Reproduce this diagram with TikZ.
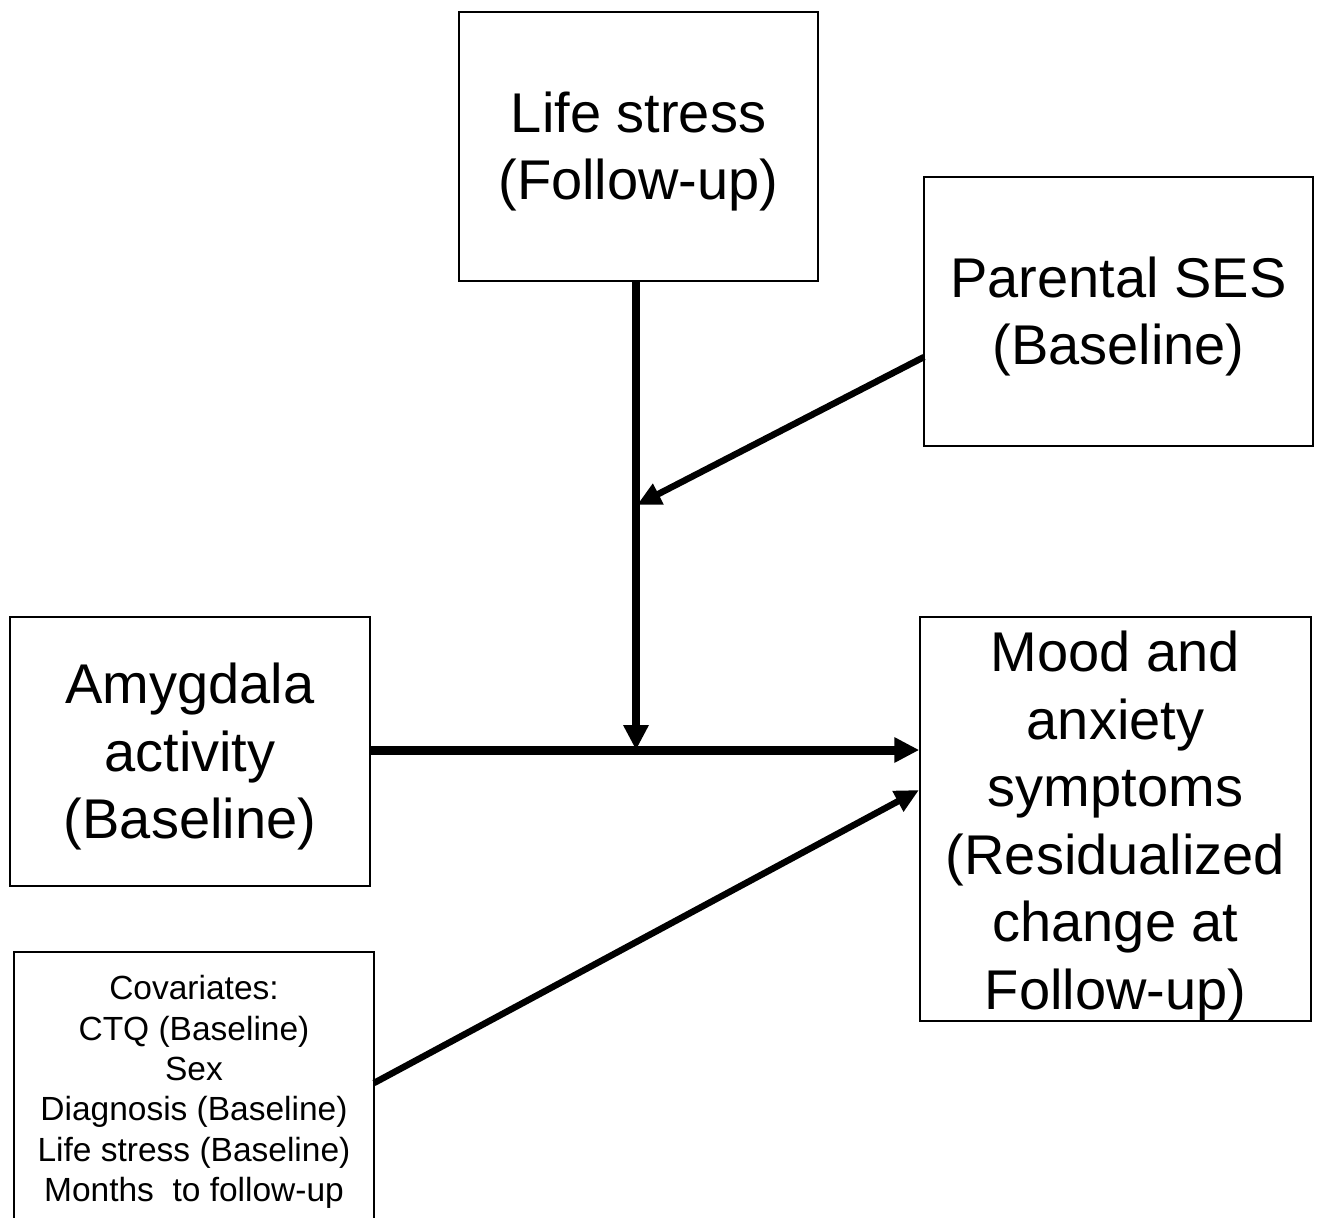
\documentclass[tikz,border=0pt]{standalone}
\usepackage{fontspec}
\setmainfont{Liberation Sans}
\usetikzlibrary{arrows.meta}
\begin{document}
\begin{tikzpicture}[x=1pt,y=-1pt,
  box/.style={draw=black,line width=1.5pt,inner sep=0pt},
  bigtext/.style={inner sep=0pt,align=center,font=\fontsize{56}{67.5}\selectfont},
  smalltext/.style={inner sep=0pt,align=center,font=\fontsize{33.5}{40.4}\selectfont},
  thick arrow/.style={line width=9pt,-{Triangle[length=25pt,width=24pt]}},
  mid arrow/.style={line width=6.5pt,-{Triangle[length=24pt,width=22pt]}}
]
\useasboundingbox (0,0) rectangle (1320,1218);
\node[box,minimum width=359pt,minimum height=269pt] (life) at (638.5,146.5) {};
\node[box,minimum width=389pt,minimum height=269pt] (par) at (1118.5,311.5) {};
\node[box,minimum width=360pt,minimum height=269pt] (amy) at (190,751.5) {};
\node[box,minimum width=391pt,minimum height=404pt] (mood) at (1115.5,819) {};
\node[box,minimum width=360pt,minimum height=276pt] (cov) at (194,1090) {};
\node[bigtext] (lifeT) at (638.5,151.5) {Life stress\\(Follow-up)};
\node[bigtext] (parT) at (1118.5,316.5) {Parental SES\\(Baseline)};
\node[bigtext] (amyT) at (190,756.5) {Amygdala\\activity\\(Baseline)};
\node[bigtext] (moodT) at (1115.5,826) {Mood and\\anxiety\\symptoms\\(Residualized\\change at\\Follow-up)};
\node[smalltext] (covT) at (194,1092) {Covariates:\\CTQ (Baseline)\\Sex\\Diagnosis (Baseline)\\Life stress (Baseline)\\Months\ \ to follow-up};
\coordinate (j) at (636,750);
\coordinate (m) at (637,505);
\coordinate (pstart) at (924,357);
\coordinate (cstart) at (374,1083);
\coordinate (cend) at (919,790);
\draw[thick arrow] (amy.east |- j) -- (mood.west |- j);
\draw[line width=8.5pt,-{Triangle[length=25pt,width=24pt]}] (life.south -| j) -- (j);
\draw[mid arrow] (pstart) -- (m);
\draw[mid arrow] (cstart) -- (cend);
\end{tikzpicture}
\end{document}
